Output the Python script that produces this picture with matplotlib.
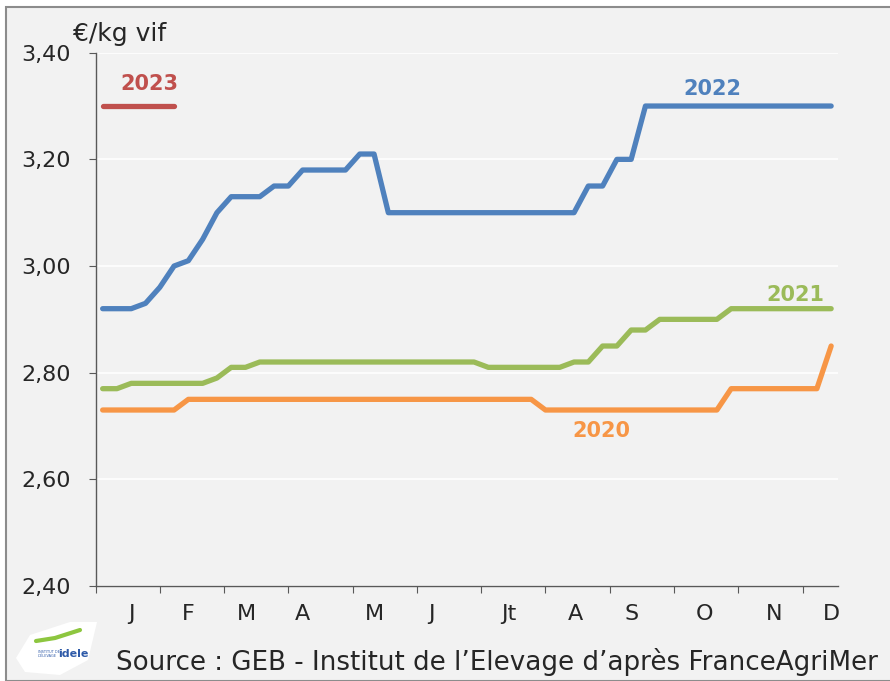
import numpy as np
import matplotlib.pyplot as plt
from matplotlib.patches import Rectangle, Polygon
from matplotlib.lines import Line2D

# weekly prices, euros per kg live weight
weeks = np.arange(1, 53)
p2020 = [2.73, 2.73, 2.73, 2.73, 2.73, 2.73, 2.75, 2.75, 2.75, 2.75,
         2.75, 2.75, 2.75, 2.75, 2.75, 2.75, 2.75, 2.75, 2.75, 2.75,
         2.75, 2.75, 2.75, 2.75, 2.75, 2.75, 2.75, 2.75, 2.75, 2.75,
         2.75, 2.73, 2.73, 2.73, 2.73, 2.73, 2.73, 2.73, 2.73, 2.73,
         2.73, 2.73, 2.73, 2.73, 2.77, 2.77, 2.77, 2.77, 2.77, 2.77,
         2.77, 2.85]
p2021 = [2.77, 2.77, 2.78, 2.78, 2.78, 2.78, 2.78, 2.78, 2.79, 2.81,
         2.81, 2.82, 2.82, 2.82, 2.82, 2.82, 2.82, 2.82, 2.82, 2.82,
         2.82, 2.82, 2.82, 2.82, 2.82, 2.82, 2.82, 2.81, 2.81, 2.81,
         2.81, 2.81, 2.81, 2.82, 2.82, 2.85, 2.85, 2.88, 2.88, 2.90,
         2.90, 2.90, 2.90, 2.90, 2.92, 2.92, 2.92, 2.92, 2.92, 2.92,
         2.92, 2.92]
p2022 = [2.92, 2.92, 2.92, 2.93, 2.96, 3.00, 3.01, 3.05, 3.10, 3.13,
         3.13, 3.13, 3.15, 3.15, 3.18, 3.18, 3.18, 3.18, 3.21, 3.21,
         3.10, 3.10, 3.10, 3.10, 3.10, 3.10, 3.10, 3.10, 3.10, 3.10,
         3.10, 3.10, 3.10, 3.10, 3.15, 3.15, 3.20, 3.20, 3.30, 3.30,
         3.30, 3.30, 3.30, 3.30, 3.30, 3.30, 3.30, 3.30, 3.30, 3.30,
         3.30, 3.30]
p2023 = [3.30, 3.30, 3.30, 3.30, 3.30, 3.30]

months = ["J", "F", "M", "A", "M", "J", "Jt", "A", "S", "O", "N", "D"]
month_pos = [3, 7, 11.1, 15, 20, 24, 29.4, 34.1, 38, 43.1, 48, 52]
yticks = [2.40, 2.60, 2.80, 3.00, 3.20, 3.40]

blue = "#4F81BD"
green = "#9BBB59"
orange = "#F79646"
red = "#C0504D"
bg = "#F2F2F2"
txt = "#262626"

fig = plt.figure(figsize=(8.9, 6.81), dpi=100)
fig.patch.set_facecolor("white")
# gray frame with light background
fig.patches.append(Rectangle((6 / 890, 0), 1, 1 - 7 / 681, transform=fig.transFigure,
                             facecolor=bg, edgecolor="#8C8C8C", linewidth=1.5, zorder=-2))

ax = fig.add_axes([95.5 / 890, 1 - 586 / 681, 742.8 / 890, 533.3 / 681])
ax.set_facecolor(bg)

lw = 3.8
ax.plot(weeks, p2020, color=orange, lw=lw, solid_capstyle="round", solid_joinstyle="round", zorder=3)
ax.plot(weeks, p2021, color=green, lw=lw, solid_capstyle="round", solid_joinstyle="round", zorder=3)
ax.plot(weeks, p2022, color=blue, lw=lw, solid_capstyle="round", solid_joinstyle="round", zorder=3)
ax.plot(weeks[:len(p2023)], p2023, color=red, lw=lw, solid_capstyle="round", zorder=3)

lbl = dict(fontsize=15, fontweight="bold", ha="center", va="center", zorder=4)
ax.text(4.25, 3.342, "2023", color=red, **lbl)
ax.text(43.7, 3.331, "2022", color=blue, **lbl)
ax.text(49.5, 2.946, "2021", color=green, **lbl)
ax.text(35.9, 2.690, "2020", color=orange, **lbl)

ax.set_xlim(0.5, 52.5)
ax.set_ylim(2.40, 3.40)
ax.set_yticks(yticks)
ax.set_yticklabels([f"{v:.2f}".replace(".", ",") for v in yticks], fontsize=16, color=txt)
ax.set_xticks(np.arange(0.5, 51, 4.5))
ax.set_xticklabels([])
ax.set_xticks(month_pos, minor=True)
ax.set_xticklabels(months, minor=True, fontsize=16, color=txt)
ax.tick_params(axis="x", which="minor", length=0, pad=13)
ax.tick_params(axis="x", which="major", length=5, color="#595959", direction="out")
ax.tick_params(axis="y", length=5, color="#595959", pad=13)
ax.grid(axis="y", color="white", lw=1.2, zorder=1)
ax.set_axisbelow(True)
for s in ["top", "right"]:
    ax.spines[s].set_visible(False)
for s in ["left", "bottom"]:
    ax.spines[s].set_color("#595959")
    ax.spines[s].set_linewidth(1)

fig.text(73 / 890, 1 - 34 / 681, "€/kg vif", fontsize=18, color=txt, va="center", ha="left")
fig.text(497 / 890, 1 - 662 / 681, "Source : GEB - Institut de l\u2019Elevage d\u2019apr\u00e8s FranceAgriMer",
         fontsize=18.8, color=txt, ha="center", va="center")

# rough logo badge
leaf = Polygon([(16 / 890, 1 - 658 / 681), (30 / 890, 1 - 635 / 681), (70 / 890, 1 - 622 / 681),
                (97 / 890, 1 - 622 / 681), (88 / 890, 1 - 660 / 681), (60 / 890, 1 - 675 / 681),
                (25 / 890, 1 - 672 / 681)], closed=True, transform=fig.transFigure,
               facecolor="white", edgecolor="none", zorder=-1)
fig.patches.append(leaf)
fig.add_artist(Line2D([36 / 890, 55 / 890, 80 / 890], [1 - 641 / 681, 1 - 638 / 681, 1 - 630 / 681],
                      color="#8DC63F", lw=3, solid_capstyle="round"))
fig.text(58 / 890, 1 - 654 / 681, "idele", fontsize=8, fontweight="bold", color="#2E5AA8",
         ha="left", va="center")
fig.text(38 / 890, 1 - 654 / 681, "INSTITUT DE\nL'ÉLEVAGE", fontsize=2.5, color="#2E5AA8",
         ha="left", va="center")

fig.savefig("out.png", dpi=100, facecolor=fig.get_facecolor())
